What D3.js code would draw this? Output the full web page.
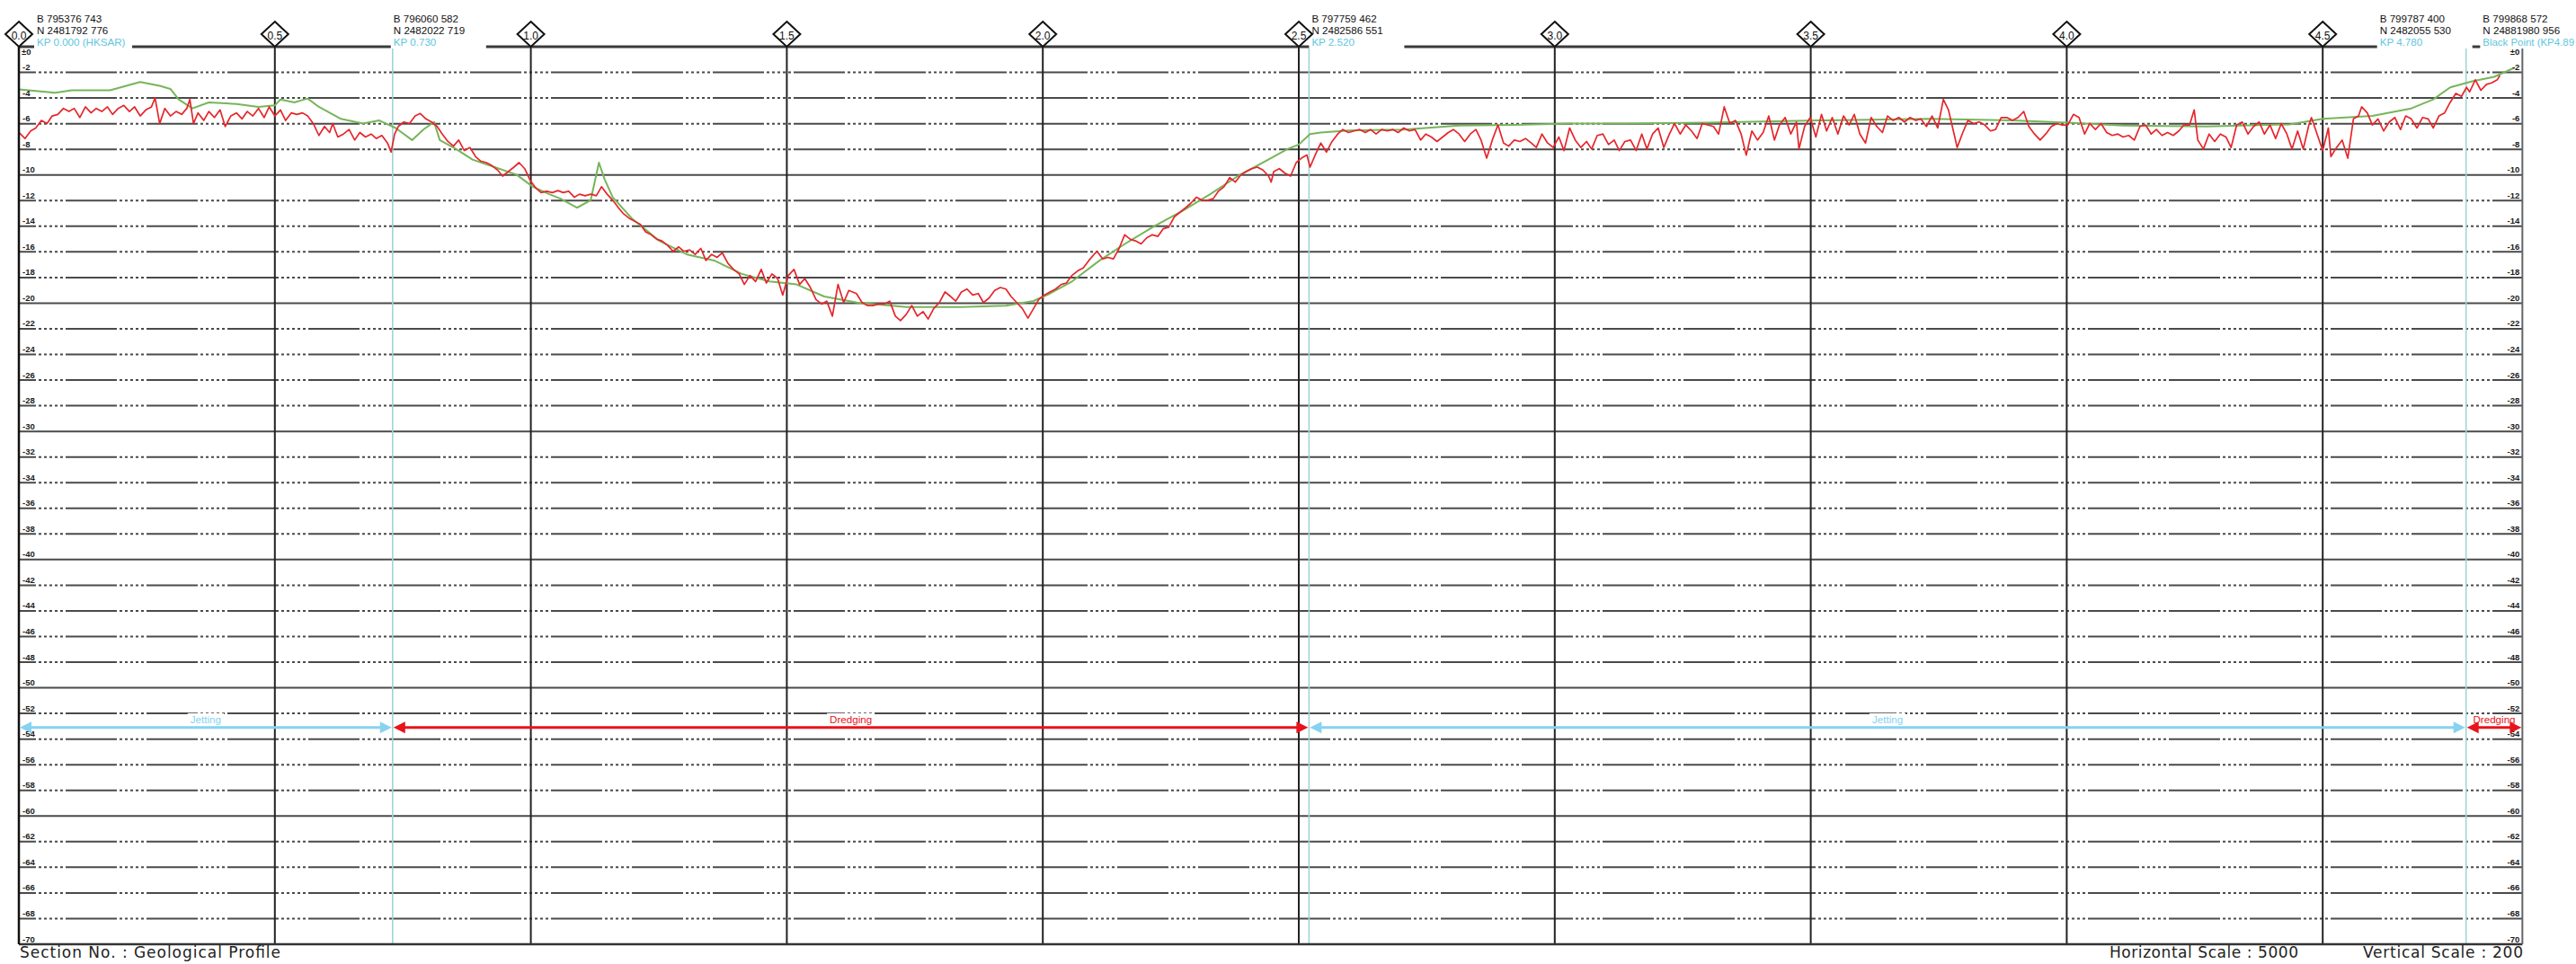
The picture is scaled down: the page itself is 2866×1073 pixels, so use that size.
<!DOCTYPE html>
<html><head><meta charset="utf-8">
<script src="https://cdn.jsdelivr.net/npm/d3@7"></script>
<style>html,body{margin:0;padding:0;background:#fff;overflow:hidden}</style>
</head><body><svg id="c" width="2866" height="1073"></svg>
<script>
// ---------------- DATA ----------------
const kpTicks = [0.0, 0.5, 1.0, 1.5, 2.0, 2.5, 3.0, 3.5, 4.0, 4.5];
const kpTickLabels = ["0.0","0.5","1.0","1.5","2.0","2.5","3.0","3.5","4.0","4.5"];
const depthTicks = [-2,-4,-6,-8,-10,-12,-14,-16,-18,-20,-22,-24,-26,-28,-30,-32,-34,-36,-38,-40,-42,-44,-46,-48,-50,-52,-54,-56,-58,-60,-62,-64,-66,-68,-70];
const depthTickLabels = depthTicks.map(d => "-" + Math.abs(d));
const zeroLabel = "±0";

const markerKP = [0.000, 0.730, 2.520, 4.780, 4.890];
const markerB = ["B 795376 743","B 796060 582","B 797759 462","B 799787 400","B 799868 572"];
const markerN = ["N 2481792 776","N 2482022 719","N 2482586 551","N 2482055 530","N 24881980 956"];
const markerName = ["KP 0.000 (HKSAR)","KP 0.730","KP 2.520","KP 4.780","Black Point (KP4.89"];
const cyanLineKP = [0.730, 2.520, 4.780];

const methodStart = [0.000, 0.730, 2.520, 4.780];
const methodEnd   = [0.730, 2.520, 4.780, 4.890];
const methodLabel = ["Jetting","Dredging","Jetting","Dredging"];
const methodDepth = -53.1;

// green profile (smooth)
const referenceProfile = [
[0,-3.33],[0.071,-3.59],[0.103,-3.40],[0.178,-3.40],[0.237,-2.75],[0.275,-3.05],[0.296,-3.29],[0.312,-4.11],[0.339,-4.81],[0.371,-4.34],[0.425,-4.46],[0.468,-4.69],[0.500,-4.58],[0.511,-4.11],[0.538,-4.34],[0.564,-4.04],[0.586,-4.69],[0.629,-5.63],[0.672,-5.99],[0.704,-5.75],[0.736,-6.34],[0.768,-7.28],[0.790,-6.46],[0.811,-5.87],[0.822,-7.28],[0.854,-7.98],[0.886,-8.80],[0.929,-9.39],[0.972,-9.98],[1.004,-10.92],[1.036,-11.50],[1.058,-11.85],[1.090,-12.56],[1.117,-11.97],[1.133,-9.04],[1.144,-10.33],[1.160,-11.74],[1.197,-13.38],[1.251,-15.14],[1.305,-16.20],[1.358,-16.67],[1.412,-17.72],[1.466,-18.31],[1.519,-18.54],[1.573,-19.48],[1.637,-19.95],[1.733,-20.30],[1.841,-20.30],[1.928,-20.20],[1.982,-19.83],[2.014,-19.25],[2.057,-18.31],[2.111,-16.67],[2.165,-15.26],[2.219,-13.97],[2.273,-12.79],[2.327,-11.50],[2.381,-10.09],[2.435,-8.92],[2.478,-7.98],[2.500,-7.63],[2.522,-6.81],[2.543,-6.69],[2.597,-6.53],[2.705,-6.46],[2.813,-6.15],[2.921,-6.10],[3.029,-5.99],[3.137,-5.99],[3.299,-5.92],[3.515,-5.75],[3.732,-5.63],[3.894,-5.75],[4.002,-5.92],[4.110,-6.15],[4.273,-6.22],[4.435,-6.06],[4.500,-5.63],[4.597,-5.40],[4.673,-4.81],[4.716,-4.11],[4.749,-3.17],[4.792,-2.70],[4.835,-2.35],[4.875,-1.64]
];

// red profile (surveyed, noisy)
const surveyProfile = [
[0.000,-6.69],[0.012,-7.16],[0.023,-6.57],[0.033,-6.34],[0.044,-5.75],[0.055,-5.99],[0.065,-5.40],[0.076,-5.28],[0.087,-4.81],[0.098,-5.05],[0.108,-4.81],[0.119,-5.52],[0.130,-4.69],[0.141,-5.16],[0.151,-4.81],[0.162,-5.05],[0.173,-4.69],[0.183,-5.28],[0.194,-4.81],[0.205,-4.58],[0.216,-5.05],[0.226,-4.69],[0.237,-5.40],[0.248,-4.93],[0.259,-4.69],[0.266,-3.99],[0.275,-6.00],[0.285,-4.81],[0.296,-5.40],[0.307,-5.05],[0.318,-5.28],[0.328,-4.81],[0.334,-4.11],[0.341,-5.99],[0.350,-5.16],[0.361,-5.75],[0.371,-5.05],[0.382,-5.52],[0.393,-4.93],[0.403,-6.22],[0.414,-5.40],[0.425,-5.16],[0.436,-5.63],[0.446,-5.05],[0.457,-5.40],[0.468,-4.81],[0.479,-5.52],[0.489,-4.69],[0.500,-5.40],[0.511,-4.93],[0.521,-5.75],[0.532,-5.16],[0.543,-5.28],[0.554,-5.16],[0.564,-5.40],[0.575,-5.99],[0.586,-6.92],[0.597,-6.22],[0.607,-6.69],[0.613,-5.99],[0.623,-7.04],[0.634,-6.81],[0.645,-6.46],[0.656,-7.28],[0.666,-6.69],[0.677,-7.04],[0.688,-6.81],[0.698,-7.16],[0.709,-6.92],[0.720,-7.51],[0.727,-8.22],[0.734,-6.81],[0.741,-6.22],[0.752,-5.87],[0.763,-5.99],[0.774,-5.40],[0.784,-5.21],[0.795,-5.63],[0.806,-5.87],[0.817,-6.22],[0.827,-6.81],[0.838,-7.39],[0.849,-7.75],[0.859,-7.28],[0.870,-8.10],[0.881,-7.86],[0.892,-8.57],[0.902,-8.92],[0.913,-9.04],[0.924,-9.27],[0.935,-9.62],[0.945,-10.09],[0.956,-9.74],[0.967,-9.39],[0.977,-9.04],[0.988,-9.51],[0.999,-10.45],[1.010,-11.03],[1.020,-11.38],[1.031,-11.27],[1.042,-11.38],[1.053,-11.22],[1.063,-11.38],[1.074,-11.27],[1.085,-11.74],[1.095,-11.50],[1.106,-11.62],[1.117,-11.50],[1.128,-11.62],[1.138,-10.92],[1.149,-11.50],[1.160,-11.97],[1.171,-12.56],[1.181,-13.03],[1.192,-13.38],[1.203,-13.62],[1.214,-13.85],[1.224,-14.44],[1.235,-14.67],[1.246,-15.02],[1.256,-15.14],[1.267,-15.49],[1.278,-15.96],[1.289,-15.61],[1.299,-15.96],[1.310,-15.85],[1.321,-16.20],[1.332,-15.73],[1.342,-16.67],[1.353,-16.20],[1.364,-16.43],[1.374,-16.08],[1.385,-16.90],[1.396,-17.37],[1.407,-17.72],[1.417,-18.54],[1.428,-17.84],[1.439,-18.31],[1.450,-17.37],[1.460,-18.43],[1.471,-17.72],[1.482,-18.08],[1.492,-19.37],[1.503,-17.84],[1.514,-17.37],[1.525,-18.54],[1.535,-18.08],[1.546,-18.78],[1.557,-19.72],[1.568,-20.07],[1.578,-19.84],[1.589,-21.01],[1.600,-18.54],[1.611,-19.95],[1.621,-19.01],
[1.636,-19.25],[1.647,-19.95],[1.658,-20.19],[1.668,-20.19],[1.679,-20.07],[1.690,-20.07],[1.701,-19.84],[1.712,-21.01],[1.722,-21.36],[1.733,-20.89],[1.744,-20.19],[1.755,-21.01],[1.766,-20.66],[1.776,-21.24],[1.787,-20.42],[1.798,-19.95],[1.809,-19.13],[1.820,-19.48],[1.830,-19.84],[1.841,-19.13],[1.852,-18.90],[1.863,-19.37],[1.874,-19.25],[1.884,-19.95],[1.895,-19.60],[1.906,-19.01],[1.917,-18.78],[1.928,-18.90],[1.938,-19.48],[1.949,-19.95],[1.960,-20.42],[1.971,-21.17],[1.982,-20.42],[1.992,-19.72],[2.003,-19.37],[2.014,-19.13],[2.025,-18.90],[2.036,-18.54],[2.046,-18.43],[2.057,-17.84],[2.068,-17.49],[2.079,-17.25],[2.090,-16.67],[2.100,-16.20],[2.106,-15.96],[2.117,-16.55],[2.127,-16.43],[2.138,-16.55],[2.149,-15.73],[2.160,-14.67],[2.171,-15.02],[2.181,-15.14],[2.192,-15.38],[2.203,-14.91],[2.214,-14.67],[2.225,-14.79],[2.235,-14.20],[2.246,-14.08],[2.257,-13.26],[2.268,-12.91],[2.279,-12.56],[2.289,-12.21],[2.300,-11.74],[2.311,-11.97],[2.322,-11.97],[2.333,-11.85],[2.343,-11.27],[2.354,-10.92],[2.365,-10.21],[2.376,-10.56],[2.387,-9.98],[2.397,-9.74],[2.408,-9.51],[2.419,-9.39],[2.430,-9.62],[2.441,-10.09],[2.446,-10.56],[2.451,-9.74],[2.462,-9.51],[2.473,-9.86],[2.484,-10.09],[2.495,-9.04],[2.505,-8.69],[2.516,-8.45],[2.522,-9.39],[2.532,-8.45],[2.543,-7.51],[2.554,-8.22],[2.565,-7.39],[2.576,-6.81],[2.586,-6.46],[2.597,-6.69],[2.608,-6.57],[2.619,-6.46],[2.630,-6.69],[2.640,-6.46],[2.651,-6.81],[2.662,-6.46],[2.673,-6.57],[2.684,-6.46],[2.694,-6.69],[2.705,-6.34],[2.716,-6.57],[2.727,-6.46],[2.738,-7.28],[2.748,-6.81],[2.759,-7.04],[2.770,-7.39],[2.781,-7.04],[2.792,-6.69],[2.802,-6.46],[2.813,-6.81],[2.824,-7.39],[2.835,-6.81],[2.846,-6.46],[2.856,-7.28],[2.867,-8.69],[2.878,-7.28],[2.889,-6.10],[2.900,-7.51],[2.910,-7.75],[2.921,-7.28],[2.932,-7.39],[2.943,-7.16],[2.954,-7.51],[2.964,-7.86],[2.975,-6.81],[2.986,-7.51],[2.997,-7.86],[3.008,-7.04],[3.018,-8.10],[3.029,-6.34],[3.040,-7.28],[3.051,-7.86],[3.062,-7.39],[3.072,-7.98],[3.083,-6.92],[3.094,-6.81],[3.105,-7.63],[3.116,-7.28],[3.126,-8.10],[3.137,-7.39],[3.148,-7.28],[3.159,-8.10],[3.170,-6.81],[3.180,-7.98],[3.191,-6.81],[3.202,-6.34],[3.213,-7.86],[3.224,-6.81],[3.234,-5.99],[3.245,-6.81],[3.256,-6.10],[3.267,-6.57],[3.278,-7.16],[3.288,-5.99],
[3.310,-6.22],[3.320,-6.81],[3.331,-4.69],[3.342,-5.99],[3.353,-5.75],[3.364,-6.81],[3.374,-8.45],[3.385,-6.57],[3.396,-7.28],[3.407,-6.69],[3.418,-5.40],[3.429,-7.28],[3.439,-6.10],[3.450,-5.52],[3.461,-6.81],[3.472,-5.87],[3.477,-7.98],[3.488,-6.22],[3.499,-5.52],[3.510,-7.04],[3.521,-5.28],[3.531,-6.57],[3.542,-5.52],[3.553,-6.81],[3.564,-5.40],[3.575,-6.10],[3.585,-5.28],[3.596,-6.81],[3.607,-7.51],[3.618,-5.52],[3.629,-6.22],[3.640,-6.69],[3.650,-5.40],[3.661,-5.75],[3.672,-5.52],[3.683,-5.87],[3.694,-5.52],[3.705,-5.75],[3.715,-5.63],[3.726,-6.22],[3.737,-5.40],[3.748,-6.34],[3.759,-4.11],[3.769,-4.93],[3.780,-6.81],[3.786,-7.86],[3.797,-6.69],[3.807,-5.75],[3.818,-5.99],[3.829,-5.87],[3.840,-6.10],[3.851,-6.57],[3.861,-6.46],[3.872,-5.52],[3.883,-5.52],[3.894,-5.75],[3.905,-5.52],[3.916,-5.05],[3.926,-6.22],[3.937,-6.81],[3.948,-7.28],[3.959,-6.81],[3.970,-6.22],[3.981,-5.99],[3.991,-6.10],[4.002,-6.10],[4.013,-5.28],[4.024,-5.52],[4.035,-6.81],[4.045,-5.99],[4.056,-6.46],[4.067,-5.99],[4.078,-6.69],[4.089,-6.92],[4.100,-6.81],[4.110,-7.04],[4.121,-6.92],[4.132,-7.28],[4.143,-6.22],[4.154,-6.10],[4.165,-6.81],[4.175,-6.46],[4.186,-6.92],[4.197,-6.69],[4.208,-6.92],[4.219,-6.57],[4.229,-6.10],[4.240,-6.10],[4.249,-4.93],[4.256,-7.28],[4.267,-7.98],[4.278,-6.81],[4.289,-7.39],[4.300,-6.81],[4.311,-7.04],[4.321,-7.86],[4.332,-6.10],[4.343,-5.87],[4.354,-6.81],[4.365,-6.22],[4.376,-5.87],[4.386,-6.81],[4.397,-6.10],[4.408,-7.16],[4.419,-5.99],[4.430,-6.81],[4.440,-7.98],[4.451,-6.57],[4.462,-7.98],[4.473,-6.10],[4.478,-5.52],[4.489,-6.81],[4.500,-8.10],[4.511,-6.34],[4.516,-8.57],[4.527,-7.86],[4.538,-7.28],[4.549,-8.69],[4.560,-5.63],[4.570,-5.40],[4.576,-4.69],[4.587,-5.16],[4.597,-6.10],[4.608,-5.63],[4.619,-6.57],[4.630,-5.87],[4.641,-5.52],[4.652,-6.46],[4.662,-5.40],[4.673,-5.63],[4.684,-6.34],[4.695,-5.52],[4.706,-5.63],[4.716,-6.34],[4.727,-5.40],[4.738,-5.16],[4.749,-4.34],[4.760,-3.64],[4.771,-3.87],[4.781,-3.17],[4.787,-3.52],[4.798,-2.58],[4.809,-3.40],[4.820,-2.93],[4.830,-2.82],[4.841,-2.58],[4.846,-2.23]
];

const footerLeft = "Section  No.   :  Geological  Profile";
const footerH = "Horizontal  Scale  :  5000";
const footerV = "Vertical  Scale  :  200";

// ---------------- LAYOUT ----------------
const svg = d3.select("#c");
const x = d3.scaleLinear().domain([0, 4.89]).range([21, 21 + 4.89 * 569.6]);
const y = d3.scaleLinear().domain([0, -70]).range([52, 1051]);
const X0 = x(0), X1 = x(4.89), Y0 = y(0), Y1 = y(-70);

const C_GRID = "#4a4a4a", C_RED = "#e5262b", C_GREEN = "#77b55a",
      C_KP = "#62c6de", C_JET = "#86d2f0", C_CYANLINE = "#9ed6d3";

// horizontal gridlines
svg.append("g").selectAll("line")
  .data(depthTicks.filter(d => d > -70))
  .join("line")
  .attr("x1", X0).attr("x2", X1)
  .attr("y1", d => y(d)).attr("y2", d => y(d))
  .attr("stroke", C_GRID).attr("stroke-width", 2)
  .attr("stroke-dasharray", d => d % 10 === 0 ? null : "57,3,3,3,3,3,3,3,3,3,3,3")
  .attr("stroke-dashoffset", 38);

// vertical KP gridlines
svg.append("g").selectAll("line")
  .data(kpTicks.filter(k => k > 0))
  .join("line")
  .attr("x1", d => x(d)).attr("x2", d => x(d))
  .attr("y1", Y0).attr("y2", Y1)
  .attr("stroke", "#222").attr("stroke-width", 2);

// cyan section lines
svg.append("g").selectAll("line")
  .data(cyanLineKP)
  .join("line")
  .attr("x1", d => x(d)).attr("x2", d => x(d))
  .attr("y1", Y0).attr("y2", Y1)
  .attr("stroke", C_CYANLINE).attr("stroke-width", 1.6);

// profiles
const line = d3.line().x(d => x(d[0])).y(d => y(d[1]));
svg.append("path").datum(referenceProfile).attr("d", line)
  .attr("fill", "none").attr("stroke", C_GREEN).attr("stroke-width", 2).attr("stroke-linejoin", "round");
svg.append("path").datum(surveyProfile).attr("d", line)
  .attr("fill", "none").attr("stroke", C_RED).attr("stroke-width", 1.7).attr("stroke-linejoin", "round");

// frame
svg.append("line").attr("x1", X0).attr("x2", X1).attr("y1", Y0).attr("y2", Y0).attr("stroke", "#3a3a3a").attr("stroke-width", 3);
svg.append("line").attr("x1", X0).attr("x2", X1).attr("y1", Y1).attr("y2", Y1).attr("stroke", "#333").attr("stroke-width", 2.5);
svg.append("line").attr("x1", X0).attr("x2", X0).attr("y1", Y0).attr("y2", Y1).attr("stroke", "#111").attr("stroke-width", 2.5);
svg.append("line").attr("x1", X1).attr("x2", X1).attr("y1", Y0).attr("y2", Y1).attr("stroke", "#666").attr("stroke-width", 2);

// depth labels
const lblFont = "bold 9.5px 'Liberation Sans', Arial, sans-serif";
const gL = svg.append("g").style("font", lblFont).attr("fill", "#1a1a1a");
gL.selectAll("text.l").data(depthTicks).join("text").attr("class", "l")
  .attr("x", X0 + 4).attr("y", d => y(d) - 2.5).text((d, i) => depthTickLabels[i]);
gL.selectAll("text.r").data(depthTicks).join("text").attr("class", "r")
  .attr("x", X1 - 3).attr("y", d => y(d) - 2.5).attr("text-anchor", "end").text((d, i) => depthTickLabels[i]);
gL.append("text").attr("x", X0 + 3).attr("y", Y0 + 9).text(zeroLabel);
gL.append("text").attr("x", X1 - 3).attr("y", Y0 + 9).attr("text-anchor", "end").text(zeroLabel);

// marker text blocks
const labelDx = [20, 1, 3, -96, -44];
const gM = svg.append("g").style("font", "11.6px 'Liberation Sans', Arial, sans-serif");
markerKP.forEach((k, i) => {
  const tx = x(k) + labelDx[i];
  gM.append("rect").attr("x", tx - 3).attr("y", 8).attr("width", i === 0 ? 109 : 106).attr("height", 46).attr("fill", "#fff");
  gM.append("text").attr("x", tx).attr("y", 25).attr("fill", "#111").text(markerB[i]);
  gM.append("text").attr("x", tx).attr("y", 37.7).attr("fill", "#111").text(markerN[i]);
  const t = gM.append("text").attr("x", tx).attr("y", 50.5).attr("fill", C_KP).text(markerName[i]);
  const room = 2864 - tx;
  if (t.node().getComputedTextLength() > room) t.attr("textLength", room).attr("lengthAdjust", "spacingAndGlyphs");
});

// KP diamonds
const gD = svg.append("g");
kpTicks.forEach((k, i) => {
  const cx = x(k), cy = 38;
  gD.append("path").attr("d", `M${cx},${cy - 14}L${cx + 15},${cy}L${cx},${cy + 14}L${cx - 15},${cy}Z`)
    .attr("fill", "#fff").attr("stroke", "#111").attr("stroke-width", 2);
  gD.append("text").attr("x", cx).attr("y", cy + 6).attr("text-anchor", "middle")
    .style("font", "12px 'Liberation Sans', Arial, sans-serif").attr("fill", "#111").text(kpTickLabels[i]);
});

// method arrows
const ay = y(methodDepth);
const gA = svg.append("g");
methodStart.forEach((s, i) => {
  const col = methodLabel[i] === "Jetting" ? C_JET : "#e8131b";
  const xa = x(s), xb = x(methodEnd[i]);
  gA.append("line").attr("x1", xa + 8).attr("x2", xb - 8).attr("y1", ay).attr("y2", ay)
    .attr("stroke", col).attr("stroke-width", 3);
  gA.append("path").attr("d", `M${xa + 1},${ay}L${xa + 14},${ay - 6.5}L${xa + 14},${ay + 6.5}Z`).attr("fill", col);
  gA.append("path").attr("d", `M${xb - 1},${ay}L${xb - 14},${ay - 6.5}L${xb - 14},${ay + 6.5}Z`).attr("fill", col);
  const t = gA.append("text").attr("x", (xa + xb) / 2).attr("y", ay - 5).attr("text-anchor", "middle")
    .style("font", "11.6px 'Liberation Sans', Arial, sans-serif").attr("fill", col).text(methodLabel[i]);
  const bb = t.node().getBBox();
  if (i < 3) gA.insert("rect", "text").attr("x", bb.x - 3).attr("y", bb.y).attr("width", bb.width + 6).attr("height", bb.height - 1).attr("fill", "#fff");
});

// footer
const gF = svg.append("g").style("font", "17px 'DejaVu Sans', sans-serif").attr("fill", "#222").style("white-space", "pre");
gF.append("text").attr("x", 22).attr("y", 1066).attr("textLength", 290).attr("lengthAdjust", "spacing").text(footerLeft);
gF.append("text").attr("x", 2347).attr("y", 1066).attr("textLength", 210).attr("lengthAdjust", "spacing").text(footerH);
gF.append("text").attr("x", 2629).attr("y", 1066).attr("textLength", 178).attr("lengthAdjust", "spacing").text(footerV);
</script></body></html>
